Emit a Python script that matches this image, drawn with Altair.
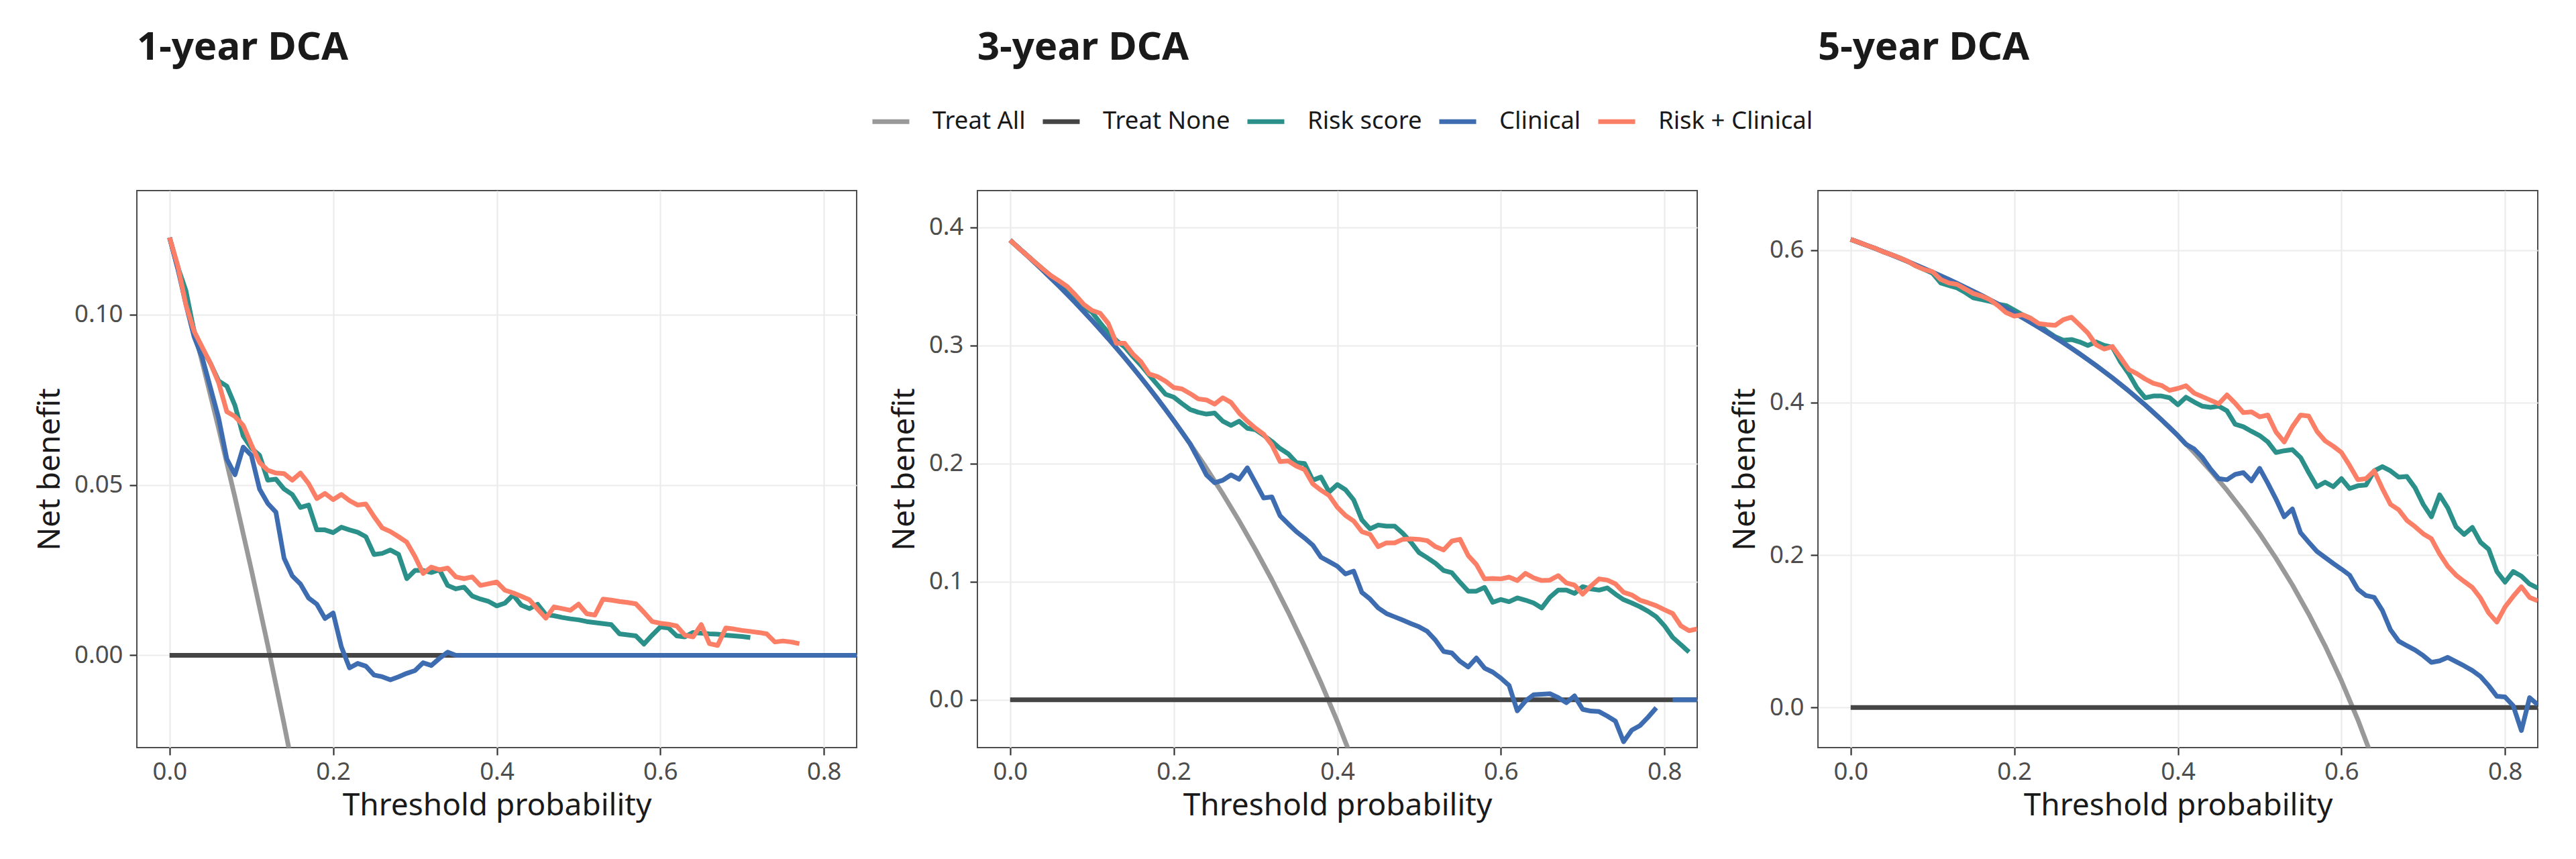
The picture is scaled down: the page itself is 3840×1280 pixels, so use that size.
import altair as alt
import pandas as pd

SERIES = ["Treat All", "Treat None", "Risk score", "Clinical", "Risk + Clinical"]
COLORS = ["#999999", "#454545", "#2A9089", "#3D6DB0", "#FB7F66"]


def grid(n):
    """Threshold grid at 0.01 steps starting at 0."""
    return [round(i * 0.01, 2) for i in range(n)]


# ---------------- 1-year ----------------
TA1_T = [0.00, 0.02, 0.04, 0.06, 0.08, 0.10, 0.12, 0.14, 0.16]
TA1 = [0.1226, 0.1047, 0.0860, 0.0666, 0.0463, 0.0251, 0.0030, -0.0202, -0.0445]
RISK1 = [0.1226, 0.1140, 0.1070, 0.0950, 0.0899, 0.0857, 0.0805, 0.0790, 0.0733, 0.0644,
         0.0608, 0.0587, 0.0514, 0.0517, 0.0488, 0.0472, 0.0434, 0.0441, 0.0368, 0.0368,
         0.0360, 0.0376, 0.0368, 0.0361, 0.0348, 0.0296, 0.0299, 0.0309, 0.0296, 0.0225,
         0.0249, 0.0249, 0.0243, 0.0251, 0.0205, 0.0195, 0.0200, 0.0174, 0.0165, 0.0158,
         0.0145, 0.0153, 0.0177, 0.0147, 0.0137, 0.0150, 0.0119, 0.0116, 0.0111, 0.0107,
         0.0104, 0.0099, 0.0096, 0.0093, 0.0090, 0.0063, 0.0060, 0.0057, 0.0033, 0.0059,
         0.0083, 0.0080, 0.0057, 0.0054, 0.0067, 0.0065, 0.0063, 0.0062, 0.0059, 0.0057,
         0.0055, 0.0052]
CLIN1 = [0.1226, 0.1135, 0.1030, 0.0935, 0.0873, 0.0785, 0.0696, 0.0576, 0.0530, 0.0611,
         0.0587, 0.0488, 0.0446, 0.0420, 0.0285, 0.0233, 0.0209, 0.0168, 0.0150, 0.0108,
         0.0124, 0.0025, -0.0037, -0.0024, -0.0032, -0.0058, -0.0063, -0.0072, -0.0063, -0.0053,
         -0.0045, -0.0022, -0.0030, -0.0009, 0.0009, 0.0, 0.0, 0.0, 0.0, 0.0,
         0.0, 0.0, 0.0, 0.0, 0.0, 0.0, 0.0, 0.0, 0.0, 0.0,
         0.0, 0.0, 0.0, 0.0, 0.0, 0.0, 0.0, 0.0, 0.0, 0.0,
         0.0, 0.0, 0.0, 0.0, 0.0, 0.0, 0.0, 0.0, 0.0, 0.0,
         0.0, 0.0, 0.0, 0.0, 0.0, 0.0, 0.0, 0.0, 0.0, 0.0,
         0.0, 0.0, 0.0, 0.0, 0.0]
BOTH1 = [0.1226, 0.1144, 0.1029, 0.0951, 0.0904, 0.0857, 0.0800, 0.0715, 0.0701, 0.0675,
         0.0618, 0.0566, 0.0543, 0.0535, 0.0533, 0.0514, 0.0535, 0.0504, 0.0460, 0.0475,
         0.0457, 0.0472, 0.0454, 0.0441, 0.0444, 0.0407, 0.0374, 0.0363, 0.0348, 0.0332,
         0.0290, 0.0240, 0.0259, 0.0251, 0.0256, 0.0230, 0.0225, 0.0230, 0.0205, 0.0210,
         0.0215, 0.0191, 0.0183, 0.0173, 0.0163, 0.0135, 0.0109, 0.0142, 0.0137, 0.0132,
         0.0150, 0.0122, 0.0118, 0.0165, 0.0162, 0.0158, 0.0155, 0.0151, 0.0126, 0.0099,
         0.0094, 0.0091, 0.0086, 0.0059, 0.0054, 0.0090, 0.0034, 0.0029, 0.0080, 0.0077,
         0.0073, 0.0070, 0.0067, 0.0063, 0.0039, 0.0042, 0.0039, 0.0034]

# ---------------- 3-year ----------------
TA3_T = [0.00, 0.02, 0.04, 0.06, 0.08, 0.10, 0.12, 0.14, 0.16, 0.18, 0.20,
         0.22, 0.24, 0.26, 0.28, 0.30, 0.32, 0.34, 0.36, 0.38, 0.40, 0.42]
TA3 = [0.3890, 0.3765, 0.3635, 0.3500, 0.3359, 0.3211, 0.3057, 0.2895, 0.2726, 0.2549, 0.2363,
       0.2167, 0.1961, 0.1743, 0.1514, 0.1271, 0.1015, 0.0742, 0.0453, 0.0145, -0.0183, -0.0535]
RISK3 = [0.3890, 0.3826, 0.3766, 0.3706, 0.3646, 0.3585, 0.3530, 0.3460, 0.3390, 0.3326,
         0.3281, 0.3191, 0.3107, 0.3041, 0.2987, 0.2906, 0.2831, 0.2748, 0.2667, 0.2586,
         0.2562, 0.2508, 0.2457, 0.2433, 0.2418, 0.2427, 0.2358, 0.2322, 0.2358, 0.2298,
         0.2286, 0.2238, 0.2187, 0.2127, 0.2082, 0.2007, 0.1999, 0.1858, 0.1885, 0.1759,
         0.1822, 0.1778, 0.1692, 0.1523, 0.1447, 0.1479, 0.1470, 0.1470, 0.1409, 0.1334,
         0.1245, 0.1202, 0.1155, 0.1094, 0.1075, 0.0994, 0.0919, 0.0919, 0.0951, 0.0825,
         0.0849, 0.0830, 0.0862, 0.0843, 0.0819, 0.0777, 0.0868, 0.0928, 0.0928, 0.0900,
         0.0957, 0.0938, 0.0928, 0.0947, 0.0894, 0.0847, 0.0819, 0.0787, 0.0749, 0.0702,
         0.0626, 0.0528, 0.0466, 0.0404]
CLIN3 = [0.3890, 0.3828, 0.3765, 0.3701, 0.3635, 0.3568, 0.3500, 0.3430, 0.3359, 0.3286,
         0.3211, 0.3135, 0.3057, 0.2977, 0.2895, 0.2812, 0.2726, 0.2639, 0.2549, 0.2457,
         0.2363, 0.2266, 0.2167, 0.2037, 0.1903, 0.1837, 0.1858, 0.1903, 0.1867, 0.1963,
         0.1837, 0.1708, 0.1717, 0.1558, 0.1489, 0.1423, 0.1369, 0.1309, 0.1207, 0.1169,
         0.1130, 0.1065, 0.1089, 0.0909, 0.0853, 0.0777, 0.0730, 0.0702, 0.0674, 0.0645,
         0.0617, 0.0579, 0.0504, 0.0409, 0.0396, 0.0325, 0.0277, 0.0353, 0.0268, 0.0234,
         0.0183, 0.0121, -0.0094, -0.0011, 0.0042, 0.0047, 0.0051, 0.0019, -0.0025, 0.0032,
         -0.0081, -0.0096, -0.0100, -0.0138, -0.0181, -0.0355, -0.0257, -0.0219, -0.0147, -0.0068]
CLIN3_TAIL_T = [0.81, 0.82, 0.83, 0.84]
CLIN3_TAIL = [0.0, 0.0, 0.0, 0.0]
BOTH3 = [0.3890, 0.3826, 0.3766, 0.3706, 0.3646, 0.3590, 0.3545, 0.3497, 0.3425, 0.3347,
         0.3296, 0.3272, 0.3185, 0.3017, 0.3017, 0.2927, 0.2861, 0.2757, 0.2736, 0.2697,
         0.2643, 0.2631, 0.2592, 0.2547, 0.2538, 0.2502, 0.2556, 0.2517, 0.2427, 0.2358,
         0.2298, 0.2247, 0.2157, 0.2016, 0.2022, 0.1978, 0.1948, 0.1828, 0.1774, 0.1729,
         0.1630, 0.1560, 0.1513, 0.1423, 0.1400, 0.1296, 0.1328, 0.1328, 0.1358, 0.1362,
         0.1358, 0.1347, 0.1296, 0.1268, 0.1343, 0.1358, 0.1221, 0.1145, 0.1023, 0.1026,
         0.1023, 0.1038, 0.1009, 0.1070, 0.1032, 0.1009, 0.1013, 0.1051, 0.0989, 0.0970,
         0.0894, 0.0962, 0.1023, 0.1013, 0.0981, 0.0909, 0.0887, 0.0843, 0.0821, 0.0796,
         0.0762, 0.0730, 0.0626, 0.0585, 0.0600]

# ---------------- 5-year ----------------
TA5_T = [0.00, 0.02, 0.04, 0.06, 0.08, 0.10, 0.12, 0.14, 0.16, 0.18, 0.20, 0.22, 0.24,
         0.26, 0.28, 0.30, 0.32, 0.34, 0.36, 0.38, 0.40, 0.42, 0.44, 0.46, 0.48, 0.50,
         0.52, 0.54, 0.56, 0.58, 0.60, 0.62, 0.64]
TA5 = [0.6140, 0.6061, 0.5979, 0.5894, 0.5804, 0.5711, 0.5614, 0.5512, 0.5405, 0.5293, 0.5175,
       0.5051, 0.4921, 0.4784, 0.4639, 0.4486, 0.4324, 0.4152, 0.3969, 0.3774, 0.3567, 0.3345,
       0.3107, 0.2852, 0.2577, 0.2280, 0.1958, 0.1609, 0.1227, 0.0810, 0.0350, -0.0158, -0.0722]
RISK5 = [0.6140, 0.6101, 0.6060, 0.6023, 0.5976, 0.5939, 0.5898, 0.5851, 0.5791, 0.5745,
         0.5698, 0.5569, 0.5536, 0.5504, 0.5444, 0.5374, 0.5351, 0.5328, 0.5291, 0.5272,
         0.5212, 0.5152, 0.5105, 0.5027, 0.4934, 0.4864, 0.4818, 0.4827, 0.4795, 0.4749,
         0.4795, 0.4749, 0.4726, 0.4531, 0.4378, 0.4193, 0.4063, 0.4086, 0.4086, 0.4063,
         0.3972, 0.4070, 0.4007, 0.3952, 0.3938, 0.3952, 0.3892, 0.3716, 0.3683, 0.3623,
         0.3567, 0.3484, 0.3345, 0.3368, 0.3382, 0.3280, 0.3081, 0.2896, 0.2956, 0.2896,
         0.3002, 0.2872, 0.2909, 0.2919, 0.3104, 0.3160, 0.3104, 0.3021, 0.3030, 0.2882,
         0.2664, 0.2502, 0.2789, 0.2618, 0.2372, 0.2270, 0.2363, 0.2168, 0.2076, 0.1784,
         0.1645, 0.1784, 0.1723, 0.1621, 0.1566]
CLIN5 = [0.6140, 0.6101, 0.6061, 0.6021, 0.5979, 0.5937, 0.5894, 0.5850, 0.5804, 0.5758,
         0.5711, 0.5663, 0.5614, 0.5563, 0.5512, 0.5459, 0.5405, 0.5349, 0.5293, 0.5235,
         0.5175, 0.5114, 0.5051, 0.4987, 0.4921, 0.4853, 0.4784, 0.4712, 0.4639, 0.4563,
         0.4486, 0.4406, 0.4324, 0.4239, 0.4152, 0.4062, 0.3969, 0.3873, 0.3774, 0.3672,
         0.3567, 0.3452, 0.3391, 0.3280, 0.3127, 0.3002, 0.2988, 0.3058, 0.3081, 0.2974,
         0.3136, 0.2942, 0.2733, 0.2502, 0.2604, 0.2293, 0.2168, 0.2048, 0.1969, 0.1890,
         0.1816, 0.1737, 0.1552, 0.1469, 0.1445, 0.1274, 0.1019, 0.0871, 0.0811, 0.0755,
         0.0681, 0.0593, 0.0612, 0.0658, 0.0602, 0.0547, 0.0486, 0.0408, 0.0287, 0.0148,
         0.0139, 0.0023, -0.0301, 0.0130, 0.0037]
BOTH5 = [0.6140, 0.6101, 0.6060, 0.6023, 0.5976, 0.5939, 0.5898, 0.5851, 0.5791, 0.5745,
         0.5717, 0.5615, 0.5569, 0.5550, 0.5490, 0.5430, 0.5397, 0.5351, 0.5272, 0.5180,
         0.5133, 0.5152, 0.5105, 0.5036, 0.5022, 0.5013, 0.5087, 0.5119, 0.5017, 0.4911,
         0.4758, 0.4702, 0.4735, 0.4587, 0.4434, 0.4378, 0.4309, 0.4253, 0.4225, 0.4160,
         0.4186, 0.4220, 0.4123, 0.4077, 0.4031, 0.3984, 0.4100, 0.3993, 0.3868, 0.3878,
         0.3813, 0.3836, 0.3614, 0.3484, 0.3683, 0.3836, 0.3822, 0.3623, 0.3498, 0.3428,
         0.3345, 0.3174, 0.2988, 0.3002, 0.3104, 0.2872, 0.2664, 0.2594, 0.2455, 0.2372,
         0.2279, 0.2214, 0.2015, 0.1853, 0.1737, 0.1654, 0.1575, 0.1436, 0.1242, 0.1121,
         0.1320, 0.1459, 0.1584, 0.1445, 0.1399]

NONE_T = [0.0, 0.84]
NONE = [0.0, 0.0]

X_DOMAIN = [-0.04, 0.84]
X_TICKS = [0.0, 0.2, 0.4, 0.6, 0.8]

PANEL_W, PANEL_H = 1073, 830
FONT = "Noto Sans"
LINE_W = 7


def rows(series, ts, vals, seg=0):
    return [{"series": series, "seg": f"{series}-{seg}", "t": t, "nb": v}
            for t, v in zip(ts, vals)]


def panel_frame(ta_t, ta, risk, clin, both, extra=()):
    recs = []
    recs += rows("Treat All", ta_t, ta)
    recs += rows("Treat None", NONE_T, NONE)
    recs += rows("Risk score", grid(len(risk)), risk)
    recs += rows("Clinical", grid(len(clin)), clin)
    for k, (ts, vs) in enumerate(extra, start=1):
        recs += rows("Clinical", ts, vs, seg=k)
    recs += rows("Risk + Clinical", grid(len(both)), both)
    return pd.DataFrame(recs)


# shared legend, placed above the panels (offsets are from the first panel's plot origin)
LEGEND = alt.Legend(
    title=None, orient="none", direction="horizontal",
    legendX=1093, legendY=-134,
    symbolType="stroke", symbolSize=3025, symbolStrokeWidth=LINE_W,
    labelFont=FONT, labelFontSize=36.5, labelColor="#1A1A1A",
    labelOffset=31, columnPadding=11, padding=0, labelLimit=0,
)


def panel_chart(df, title, ydom, yticks, yfmt):
    x = alt.X("t:Q", scale=alt.Scale(domain=X_DOMAIN, nice=False, zero=False),
              axis=alt.Axis(values=X_TICKS, format=".1f", title="Threshold probability"))
    y = alt.Y("nb:Q", scale=alt.Scale(domain=ydom, nice=False, zero=False),
              axis=alt.Axis(values=yticks, format=yfmt, title="Net benefit"))
    color = alt.Color("series:N", scale=alt.Scale(domain=SERIES, range=COLORS), legend=LEGEND)
    layers = []
    for s in SERIES:  # drawing order: reference lines first, models on top
        layers.append(
            alt.Chart(df[df["series"] == s])
            .mark_line(clip=True, strokeWidth=LINE_W, strokeCap="butt", strokeJoin="round")
            .encode(x=x, y=y, color=color, detail="seg:N")
        )
    return alt.layer(*layers).properties(
        width=PANEL_W, height=PANEL_H,
        title=alt.TitleParams(text=title, anchor="start", frame="group", baseline="alphabetic",
                              offset=137, font=FONT, fontSize=58, fontWeight="bold",
                              color="#1A1A1A"),
    )


p1 = panel_chart(panel_frame(TA1_T, TA1, RISK1, CLIN1, BOTH1),
                 "1-year DCA", [-0.0271, 0.1364], [0.0, 0.05, 0.10], ".2f")
p2 = panel_chart(panel_frame(TA3_T, TA3, RISK3, CLIN3, BOTH3, extra=[(CLIN3_TAIL_T, CLIN3_TAIL)]),
                 "3-year DCA", [-0.0405, 0.431], [0.0, 0.1, 0.2, 0.3, 0.4], ".1f")
p3 = panel_chart(panel_frame(TA5_T, TA5, RISK5, CLIN5, BOTH5),
                 "5-year DCA", [-0.0525, 0.678], [0.0, 0.2, 0.4, 0.6], ".1f")

chart = (
    alt.hconcat(p1, p2, p3, spacing=46)
    .properties(padding={"left": 50, "top": 42, "right": 40, "bottom": 40}, background="white")
    .configure_view(stroke="#4D4D4D", strokeWidth=2)
    .configure_axis(
        grid=True, gridColor="#EBEBEB", gridWidth=2.2, domain=False,
        ticks=True, tickColor="#333333", tickSize=11, tickWidth=2.2,
        labelFont=FONT, labelFontSize=36.5, labelColor="#4D4D4D",
        titleFont=FONT, titleFontSize=46, titleFontWeight="normal", titleColor="#1A1A1A",
    )
    .configure_axisX(labelPadding=7, titlePadding=10)
    .configure_axisY(labelPadding=10, titlePadding=12)
)

chart.save("out.html", embed_options={"renderer": "svg", "actions": False})
